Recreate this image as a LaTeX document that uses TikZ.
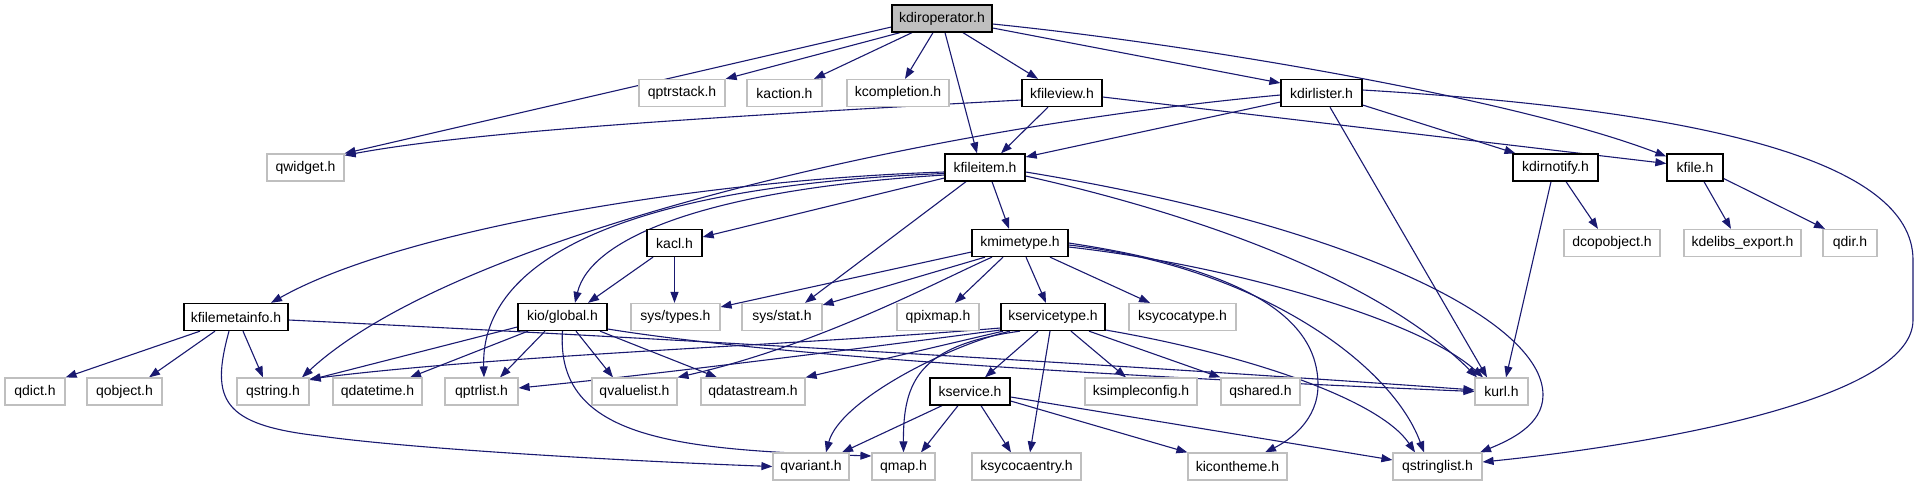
\documentclass[tikz,border=0pt]{standalone}
\usepackage{fontspec}
\setmainfont{Liberation Sans}
\usetikzlibrary{arrows.meta}
\definecolor{edgec}{HTML}{191970}
\definecolor{gbord}{HTML}{BFBFBF}
\definecolor{rootfill}{HTML}{BFBFBF}
\pgfdeclarelayer{background}
\pgfsetlayers{background,main}
\tikzset{
  box/.style={rectangle, minimum height=27pt, inner sep=0pt, fill=white, font=\fontsize{14}{16}\selectfont},
  nb/.style={box, draw=black, line width=1.3pt},
  gb/.style={box, draw=gbord, line width=1.2pt},
  rootbox/.style={box, draw=black, line width=1.3pt, fill=rootfill},
  e/.style={draw=edgec, line width=1.1pt, -{Triangle[length=11pt,width=8pt]}}
}
\begin{document}
\begin{tikzpicture}[x=1pt,y=-1pt]
\useasboundingbox (0,0) rectangle (1919,485);
% row 0
\node[rootbox, minimum width=100pt] (root) at (942,18.5) {kdiroperator.h};
% row 1
\node[gb, minimum width=86pt] (qptrstack) at (682,93) {qptrstack.h};
\node[gb, minimum width=75pt] (kaction) at (784.5,93) {kaction.h};
\node[gb, minimum width=102pt] (kcompletion) at (898,93) {kcompletion.h};
\node[nb, minimum width=80pt] (kfileview) at (1062,93) {kfileview.h};
\node[nb, minimum width=81pt] (kdirlister) at (1321.5,93) {kdirlister.h};
% row 2
\node[gb, minimum width=77pt] (qwidget) at (305.5,167.5) {qwidget.h};
\node[nb, minimum width=80pt] (kfileitem) at (985,167.5) {kfileitem.h};
\node[nb, minimum width=85pt] (kdirnotify) at (1555.5,167.5) {kdirnotify.h};
\node[nb, minimum width=56pt] (kfile) at (1695,167.5) {kfile.h};
% row 3
\node[nb, minimum width=55pt] (kacl) at (674.5,243) {kacl.h};
\node[nb, minimum width=96pt] (kmimetype) at (1020,243) {kmimetype.h};
\node[gb, minimum width=96pt] (dcopobject) at (1612,243) {dcopobject.h};
\node[gb, minimum width=117pt] (kdelibs) at (1742.5,243) {kdelibs\_export.h};
\node[gb, minimum width=54pt] (qdir) at (1850,243) {qdir.h};
% row 4
\node[nb, minimum width=104pt] (kfilemetainfo) at (236,317) {kfilemetainfo.h};
\node[nb, minimum width=89pt] (kioglobal) at (562.5,317) {kio/global.h};
\node[gb, minimum width=89pt] (systypes) at (675.5,317) {sys/types.h};
\node[gb, minimum width=80pt] (sysstat) at (782,317) {sys/stat.h};
\node[gb, minimum width=82pt] (qpixmap) at (938,317) {qpixmap.h};
\node[nb, minimum width=104pt] (kservicetype) at (1053,317) {kservicetype.h};
\node[gb, minimum width=107pt] (ksycocatype) at (1182.5,317) {ksycocatype.h};
% row 5
\node[gb, minimum width=60pt] (qdict) at (35,391.5) {qdict.h};
\node[gb, minimum width=75pt] (qobject) at (124.5,391.5) {qobject.h};
\node[gb, minimum width=72pt] (qstring) at (273,391.5) {qstring.h};
\node[gb, minimum width=89pt] (qdatetime) at (377.5,391.5) {qdatetime.h};
\node[gb, minimum width=73pt] (qptrlist) at (481.5,391.5) {qptrlist.h};
\node[gb, minimum width=85pt] (qvaluelist) at (634.5,391.5) {qvaluelist.h};
\node[gb, minimum width=104pt] (qdatastream) at (753,391.5) {qdatastream.h};
\node[nb, minimum width=80pt] (kservice) at (970,391.5) {kservice.h};
\node[gb, minimum width=112pt] (ksimpleconfig) at (1141,391.5) {ksimpleconfig.h};
\node[gb, minimum width=79pt] (qshared) at (1260.5,391.5) {qshared.h};
\node[gb, minimum width=53pt] (kurl) at (1501.5,391.5) {kurl.h};
% row 6
\node[gb, minimum width=76pt] (qvariant) at (811,466.5) {qvariant.h};
\node[gb, minimum width=63pt] (qmap) at (903.5,466.5) {qmap.h};
\node[gb, minimum width=109pt] (ksycocaentry) at (1026.5,466.5) {ksycocaentry.h};
\node[gb, minimum width=99pt] (kicontheme) at (1237.5,466.5) {kicontheme.h};
\node[gb, minimum width=89pt] (qstringlist) at (1437.5,466.5) {qstringlist.h};

\begin{pgfonlayer}{background}
% kdiroperator
\draw[e] ([yshift=-8.5pt]root.west) -- (qwidget.north east);
\draw[e] ([xshift=-42pt]root.south) -- (qptrstack.north east);
\draw[e] ([xshift=-30pt]root.south) -- ([xshift=29.5pt]kaction.north);
\draw[e] ([xshift=-9pt]root.south) -- ([xshift=7pt]kcompletion.north);
\draw[e] ([xshift=3pt]root.south) -- ([xshift=-8pt]kfileitem.north);
\draw[e] ([xshift=21pt]root.south) -- ([xshift=-24pt]kfileview.north);
\draw[e] ([yshift=-9.5pt]root.east) -- ([yshift=10pt]kdirlister.west);
\draw[e] ([yshift=-5.5pt]root.east) .. controls (1200,45) and (1520,100) .. ([yshift=11pt]kfile.west);
% kfileview
\draw[e] ([yshift=-7pt]kfileview.west) .. controls (750,115) and (480,130) .. ([yshift=-2pt]qwidget.north east);
\draw[e] ([xshift=-14pt]kfileview.south) -- ([xshift=16pt]kfileitem.north);
\draw[e] ([yshift=-4pt]kfileview.east) -- ([yshift=4pt]kfile.west);
% kdirlister
\draw[e] ([yshift=-9pt]kdirlister.west) -- ([yshift=10.5pt]kfileitem.east);
\draw[e] ([yshift=-2pt]kdirlister.west) .. controls (900,130) and (450,240) .. ([xshift=29pt]qstring.north);
\draw[e] ([yshift=-12pt]kdirlister.east) -- ([xshift=-40pt]kdirnotify.north);
\draw[e] ([xshift=8.5pt]kdirlister.south) -- ([xshift=-14.5pt]kurl.north);
\draw[e] ([yshift=3pt]kdirlister.east) .. controls (1700,110) and (1913,160) .. (1913,260) -- (1913,320) .. controls (1913,400) and (1650,445) .. ([yshift=4.5pt]qstringlist.east);
% kfileitem
\draw[e] ([yshift=-4.5pt]kfileitem.west) .. controls (700,180) and (400,230) .. ([xshift=35pt]kfilemetainfo.north);
\draw[e] ([yshift=-7.5pt]kfileitem.west) .. controls (700,190) and (590,240) .. ([xshift=12.5pt]kioglobal.north);
\draw[e] ([yshift=-6pt]kfileitem.west) .. controls (650,185) and (480,250) .. ([xshift=2.5pt]qptrlist.north);
\draw[e] ([yshift=-10.5pt]kfileitem.west) -- ([yshift=6pt]kacl.east);
\draw[e] ([xshift=-19pt]kfileitem.south) -- ([xshift=23pt]sysstat.north);
\draw[e] ([xshift=7pt]kfileitem.south) -- ([xshift=-11pt]kmimetype.north);
\draw[e] ([yshift=-8.5pt]kfileitem.east) .. controls (1200,215) and (1380,280) .. ([xshift=-24.5pt]kurl.north);
\draw[e] ([yshift=-4.5pt]kfileitem.east) .. controls (1350,225) and (1543,320) .. (1543,395) .. controls (1543,425) and (1510,440) .. ([xshift=42.5pt]qstringlist.north);
% kacl
\draw[e] ([xshift=-21.5pt]kacl.south) -- ([xshift=25.5pt]kioglobal.north);
\draw[e] (kacl.south) -- ([xshift=-1pt]systypes.north);
% kmimetype
\draw[e] ([yshift=-9pt]kmimetype.west) -- ([yshift=10pt]systypes.east);
\draw[e] ([xshift=-35pt]kmimetype.south) -- ([yshift=12pt]sysstat.east);
\draw[e] ([xshift=-28pt]kmimetype.south) .. controls (940,280) and (820,345) .. ([xshift=43pt]qvaluelist.north);
\draw[e] ([xshift=-17pt]kmimetype.south) -- ([xshift=17pt]qpixmap.north);
\draw[e] ([xshift=6pt]kmimetype.south) -- ([xshift=-7pt]kservicetype.north);
\draw[e] ([xshift=30pt]kmimetype.south) -- ([xshift=-32.5pt]ksycocatype.north);
\draw[e] ([yshift=-4pt]kmimetype.east) .. controls (1230,265) and (1420,320) .. ([xshift=-18.5pt]kurl.north);
\draw[e] ([yshift=-2pt]kmimetype.east) .. controls (1250,265) and (1390,360) .. ([xshift=-13.5pt]qstringlist.north);
\draw[e] (kmimetype.east) .. controls (1250,270) and (1318,320) .. (1318,385) .. controls (1318,420) and (1290,440) .. ([xshift=27.5pt]kicontheme.north);
% kdirnotify
\draw[e] ([xshift=10.5pt]kdirnotify.south) -- ([xshift=-14pt]dcopobject.north);
\draw[e] ([xshift=-4.5pt]kdirnotify.south) -- ([xshift=4.5pt]kurl.north);
% kfile
\draw[e] ([xshift=9pt]kfile.south) -- ([xshift=-11.5pt]kdelibs.north);
\draw[e] ([yshift=-11pt]kfile.east) -- ([xshift=-25pt]qdir.north);
% kfilemetainfo
\draw[e] ([xshift=-36pt]kfilemetainfo.south) -- (qdict.north east);
\draw[e] ([xshift=-21pt]kfilemetainfo.south) -- ([xshift=24.5pt]qobject.north);
\draw[e] ([xshift=7pt]kfilemetainfo.south) -- ([xshift=-10pt]qstring.north);
\draw[e] ([xshift=-7pt]kfilemetainfo.south) .. controls (210,400) and (222,425) .. (320,436) .. controls (420,450) and (650,462) .. (qvariant.west);
\draw[e] ([yshift=-3pt]kfilemetainfo.east) .. controls (700,340) and (1200,370) .. ([yshift=1.5pt]kurl.west);
% kio/global
\draw[e] ([yshift=-10pt]kioglobal.west) -- ([yshift=11.5pt]qstring.east);
\draw[e] ([xshift=-34.5pt]kioglobal.south) -- ([xshift=32.5pt]qdatetime.north);
\draw[e] ([xshift=-17.5pt]kioglobal.south) -- ([xshift=18.5pt]qptrlist.north);
\draw[e] (kioglobal.south) .. controls (555,440) and (680,450) .. ([yshift=10.5pt]qmap.west);
\draw[e] ([xshift=13.5pt]kioglobal.south) -- ([xshift=-21.5pt]qvaluelist.north);
\draw[e] ([xshift=37.5pt]kioglobal.south) -- ([xshift=-36pt]qdatastream.north);
\draw[e] ([yshift=-12pt]kioglobal.east) .. controls (800,360) and (1200,380) .. (kurl.west);
% kservicetype
\draw[e] ([yshift=-11pt]kservicetype.west) .. controls (800,345) and (500,355) .. ([yshift=12.5pt]qstring.east);
\draw[e] ([yshift=-13pt]kservicetype.west) .. controls (850,350) and (650,375) .. ([yshift=3.5pt]qptrlist.east);
\draw[e] ([xshift=-50pt]kservicetype.south) -- (qdatastream.north east);
\draw[e] ([xshift=-43pt]kservicetype.south) .. controls (950,345) and (840,400) .. ([xshift=15pt]qvariant.north);
\draw[e] ([xshift=-33pt]kservicetype.south) .. controls (920,345) and (903,380) .. (qmap.north);
\draw[e] ([xshift=-15pt]kservicetype.south) -- ([xshift=15pt]kservice.north);
\draw[e] ([xshift=-3pt]kservicetype.south) -- ([xshift=3.5pt]ksycocaentry.north);
\draw[e] ([xshift=18pt]kservicetype.south) -- ([xshift=-15pt]ksimpleconfig.north);
\draw[e] ([xshift=36pt]kservicetype.south) -- (qshared.north west);
\draw[e] ([yshift=-13pt]kservicetype.east) .. controls (1250,355) and (1380,400) .. ([xshift=-22.5pt]qstringlist.north);
% kservice
\draw[e] ([xshift=-28pt]kservice.south) -- ([xshift=31pt]qvariant.north);
\draw[e] ([xshift=-12pt]kservice.south) -- ([xshift=17.5pt]qmap.north);
\draw[e] ([xshift=11pt]kservice.south) -- ([xshift=-15.5pt]ksycocaentry.north);
\draw[e] ([yshift=-9.5pt]kservice.east) -- (kicontheme.north west);
\draw[e] ([yshift=-5.5pt]kservice.east) -- ([yshift=6.5pt]qstringlist.west);
\end{pgfonlayer}
\end{tikzpicture}
\end{document}
